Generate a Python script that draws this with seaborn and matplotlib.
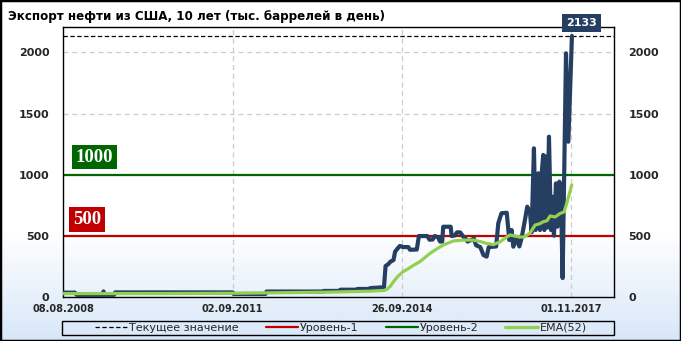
import matplotlib
matplotlib.use("Agg")
import numpy as np
import pandas as pd
import matplotlib.pyplot as plt
import seaborn as sns
from matplotlib.colors import LinearSegmentedColormap
from matplotlib.patches import Rectangle
from matplotlib.lines import Line2D

# ---------------- data ----------------
title = "Экспорт нефти из США, 10 лет (тыс. баррелей в день)"
tick_labels = ["08.08.2008", "02.09.2011", "26.09.2014", "01.11.2017"]
tick_weeks = [0, 160, 320, 480]
y_ticks = [0, 500, 1000, 1500, 2000]

export_week = [0, 11, 12.6, 37, 38, 39, 48, 49, 160, 161, 191, 192, 245, 246,
               261, 262, 277, 278, 289, 290, 303, 304.5, 307, 309, 312, 313.5,
               316, 318, 321, 326, 327.6, 334, 336, 344, 346, 349, 351, 354,
               356, 358, 359, 366, 367, 370, 372, 375, 378, 380, 382, 386, 388,
               390, 394, 397, 400, 402, 409, 411, 414, 419, 421.4, 423.6, 425.2,
               428.3, 430.9, 433, 436.2, 438.4, 441, 442.5, 444.7, 446.3, 448.8,
               450.4, 452, 453.5, 454.5, 455.8, 457.3, 458.9, 460.8, 462, 463.6,
               465.5, 466.8, 468.7, 470, 471.8, 475, 477.2, 480.6]
export_value = [38, 38, 20, 20, 48, 20, 20, 40, 40, 27, 27, 47, 47, 52,
                52, 62, 62, 68, 68, 75, 82, 255, 270, 290, 304, 372,
                400, 419, 410, 410, 388, 390, 500, 500, 470, 472, 500, 490,
                455, 455, 576, 576, 500, 505, 530, 530, 495, 480, 455, 470, 480,
                425, 410, 345, 332, 410, 415, 604, 686, 690, 468, 549, 413,
                481, 415, 481, 631, 740, 690, 530, 1216, 549, 1012,
                549, 1012, 1162, 549, 1150, 570, 1311, 549, 821, 503,
                930, 576, 944, 915, 157, 1992, 1270, 2133]

ema_week = [0, 100, 160, 190, 250, 290, 303, 306, 309, 312, 316, 321, 326, 331,
            337, 346.5, 352, 359, 368.6, 378, 387.5, 394, 400, 406.4, 412.7,
            417, 422, 428.5, 434.8, 441, 445.8, 450, 453.6, 457, 460, 464.7,
            469.4, 473.2, 475.7, 480.4]
ema_value = [30, 31, 33, 36, 42, 50, 56, 66, 90, 128, 170, 209, 234, 262,
             291, 359, 390, 427, 460, 467, 467, 455, 440, 430, 453,
             480, 509, 497, 490, 525, 590, 600, 617, 625, 664, 656,
             684, 697, 767, 917]

current_value = 2133
level_1 = 500
level_2 = 1000
legend_labels = ["Текущее значение", "Уровень-1", "Уровень-2", "EMA(52)"]

export_df = pd.DataFrame({"week": export_week, "value": export_value})
ema_df = pd.DataFrame({"week": ema_week, "value": ema_value})

# ---------------- style ----------------
sns.set_style("white")
plt.rcParams["font.family"] = ["DejaVu Sans"]

c_line = "#253f62"
c_red = "#c00000"
c_green = "#006600"
c_ema = "#92d050"
c_grid = "#cccccc"

W, H = 681, 341
fig = plt.figure(figsize=(W / 100, H / 100), dpi=100)

# background gradient (white top -> light blue bottom)
bg = fig.add_axes([0, 0, 1, 1], zorder=-10)
cmap = LinearSegmentedColormap.from_list(
    "bg", [(0, "#ffffff"), (0.68, "#ffffff"), (1.0, "#d8e7f8")])
grad = np.linspace(0, 1, 300).reshape(-1, 1)
bg.imshow(grad, aspect="auto", cmap=cmap, extent=[0, 1, 0, 1], origin="upper")
bg.set_axis_off()

x0, x1 = 63.3, 614.3
y_top, y_bot = 27.3, 297.3
ax = fig.add_axes([x0 / W, 1 - y_bot / H, (x1 - x0) / W, (y_bot - y_top) / H])
ax.set_facecolor("none")

xmax = (x1 - x0) / (508.0 / 480)
ax.set_xlim(0, xmax)
ax.set_ylim(0, 2204)

# grid
for t in tick_weeks[1:]:
    ax.axvline(t, color=c_grid, lw=0.9, ls=(0, (4, 3)), zorder=1)
for t in y_ticks[1:]:
    ax.axhline(t, color=c_grid, lw=0.9, ls=(0, (4, 3)), zorder=1)

# level lines
ax.axhline(level_1, color=c_red, lw=1.6, zorder=2)
ax.axhline(level_2, color=c_green, lw=1.6, zorder=2)
ax.axhline(current_value, color="black", lw=0.9, ls=(0, (3.5, 2)), zorder=2)

sns.lineplot(data=export_df, x="week", y="value", ax=ax, color=c_line,
             linewidth=3.0, estimator=None, sort=False, zorder=3)
sns.lineplot(data=ema_df, x="week", y="value", ax=ax, color=c_ema,
             linewidth=2.3, estimator=None, sort=False, zorder=4)

ax.set_xlabel("")
ax.set_ylabel("")
ax.set_xticks(tick_weeks)
ax.set_xticklabels(tick_labels, fontsize=7, fontweight="bold")
ax.set_yticks(y_ticks)
ax.set_yticklabels([str(v) for v in y_ticks], fontsize=8, fontweight="bold")
ax.tick_params(axis="x", length=0, pad=5)
ax.tick_params(axis="y", length=0, pad=10, labelright=True, right=False)
for s in ax.spines.values():
    s.set_color("black")
    s.set_linewidth(1.0)
    s.set_visible(True)

# level labels
ax.text(12.0, 1145, "1000", ha="left", va="center", color="white",
        fontsize=13.5, fontweight="bold", family="Liberation Serif",
        bbox=dict(boxstyle="square,pad=0.2", fc=c_green, ec="none"), zorder=6)
ax.text(9.2, 637, "500", ha="left", va="center", color="white",
        fontsize=13.5, fontweight="bold", family="Liberation Serif",
        bbox=dict(boxstyle="square,pad=0.2", fc=c_red, ec="none"), zorder=6)
ax.text(489.5, 2239, str(current_value), ha="center", va="center", color="white",
        fontsize=8, fontweight="bold",
        bbox=dict(boxstyle="square,pad=0.35", fc=c_line, ec="none"),
        zorder=6, clip_on=False)

# title
fig.text(8 / W, 1 - 16.5 / H, title, ha="left", va="center", fontsize=8.6,
         fontweight="bold", color="black")

# legend
handles = [Line2D([], [], color="black", lw=0.9, ls=(0, (3.5, 2))),
           Line2D([], [], color=c_red, lw=1.6),
           Line2D([], [], color=c_green, lw=1.6),
           Line2D([], [], color=c_ema, lw=2.3)]
fig.legend(handles, legend_labels, loc="center", ncol=4,
           bbox_to_anchor=(341 / W, 1 - 328 / H), frameon=False, fontsize=8,
           handlelength=2.9, handletextpad=0.2, columnspacing=2.4,
           borderpad=0.1)
fig.patches.append(Rectangle((62.3 / W, 1 - 335 / H), (614.3 - 62.3) / W,
                             14 / H, transform=fig.transFigure, fill=False,
                             ec="black", lw=1.0))

# outer frame
fig.patches.append(Rectangle((0, 0), 1, 1, transform=fig.transFigure,
                             fill=False, ec="black", lw=2.5))

fig.savefig("out.png", dpi=100)
